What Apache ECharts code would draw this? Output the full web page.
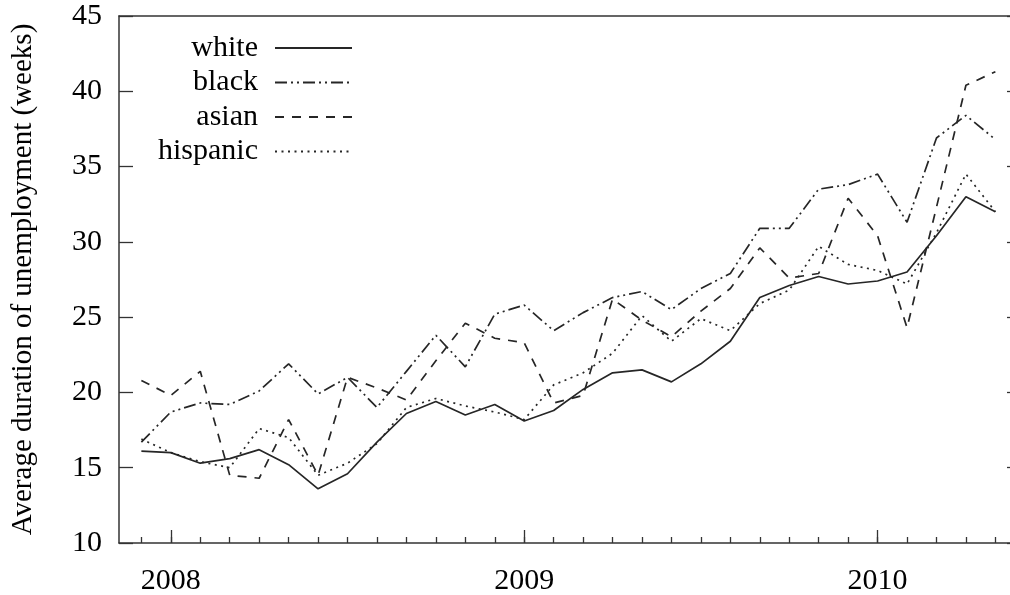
<!DOCTYPE html>
<html>
<head>
<meta charset="utf-8">
<script src="https://cdn.jsdelivr.net/npm/echarts@6/dist/echarts.min.js"></script>
<style>
  html, body { margin: 0; padding: 0; background: #fff; }
  #chart { width: 1010px; height: 595px; }
</style>
</head>
<body>
<div id="chart"></div>
<script>
// Monthly observations, Dec 2007 – May 2010
const months = [
  '2007-12',
  '2008-01','2008-02','2008-03','2008-04','2008-05','2008-06',
  '2008-07','2008-08','2008-09','2008-10','2008-11','2008-12',
  '2009-01','2009-02','2009-03','2009-04','2009-05','2009-06',
  '2009-07','2009-08','2009-09','2009-10','2009-11','2009-12',
  '2010-01','2010-02','2010-03','2010-04','2010-05'
];

// Average duration of unemployment (weeks)
const white = [16.1, 16.0, 15.3, 15.6, 16.2, 15.2, 13.6, 14.6, 16.7, 18.6,
               19.4, 18.5, 19.2, 18.1, 18.8, 20.2, 21.3, 21.5, 20.7, 21.9,
               23.4, 26.3, 27.1, 27.7, 27.2, 27.4, 28.0, 30.4, 33.0, 32.0];
const black = [16.7, 18.7, 19.3, 19.2, 20.1, 21.9, 19.9, 21.0, 19.0, 21.4,
               23.8, 21.7, 25.2, 25.8, 24.1, 25.3, 26.3, 26.7, 25.5, 26.9,
               27.9, 30.9, 30.9, 33.5, 33.8, 34.5, 31.3, 36.9, 38.4, 36.8];
const asian = [20.8, 19.8, 21.4, 14.5, 14.3, 18.2, 14.5, 21.0, 20.3, 19.5,
               22.1, 24.6, 23.6, 23.3, 19.3, 19.8, 26.2, 24.8, 23.7, 25.4,
               26.9, 29.6, 27.6, 27.9, 32.9, 30.4, 24.3, 32.3, 40.4, 41.3];
const hispanic = [16.9, 16.0, 15.4, 15.0, 17.6, 17.0, 14.5, 15.3, 16.6, 19.0,
                  19.6, 19.1, 18.7, 18.2, 20.5, 21.3, 22.6, 25.1, 23.4, 24.9,
                  24.1, 25.9, 26.8, 29.7, 28.5, 28.1, 27.2, 30.6, 34.5, 32.0];

// Year tick labels
const years = ['2008', '2009', '2010'];

// months counted from January 2008
function monthIndex(s) {
  const [y, m] = s.split('-').map(Number);
  return (y - 2008) * 12 + (m - 1);
}
const xs = months.map(monthIndex);
const yearTicks = years.map(y => monthIndex(y + '-01'));
const pairs = vals => xs.map((x, i) => [x, vals[i]]);

const FONT = '"Liberation Serif", "DejaVu Serif", serif';
const INK = '#262626';
const X_MIN = -1.76, X_MAX = 28.87;

const chart = echarts.init(document.getElementById('chart'), null, { renderer: 'canvas' });

const lineSeries = (name, vals, type) => ({
  name,
  type: 'line',
  xAxisIndex: 0,
  yAxisIndex: 0,
  data: pairs(vals),
  symbol: 'none',
  animation: false,
  lineStyle: { color: INK, width: 1.7, type },
  itemStyle: { color: INK }
});

chart.setOption({
  animation: false,
  backgroundColor: '#fff',
  grid: {
    left: 119, top: 16, width: 902, bottom: 52,
    outerBoundsMode: 'none',
    show: false
  },
  legend: {
    orient: 'vertical',
    align: 'right',
    right: 657,
    top: 33,
    padding: 0,
    itemWidth: 77,
    itemHeight: 14,
    itemGap: 4.5,
    selectedMode: false,
    itemStyle: { color: 'rgba(0,0,0,0)', borderWidth: 0 },
    textStyle: { fontFamily: FONT, fontSize: 30, color: '#000', padding: [0, 12, 0, 0] },
    data: ['white', 'black', 'asian', 'hispanic']
  },
  xAxis: [
    {
      type: 'value', position: 'bottom', min: X_MIN, max: X_MAX,
      axisLine: { show: true, onZero: false, lineStyle: { color: '#333', width: 1.5 } },
      axisTick: { show: true, inside: true, length: 13, customValues: yearTicks,
                  lineStyle: { color: '#333', width: 1.3 } },
      axisLabel: {
        show: true, customValues: yearTicks, margin: 23,
        fontFamily: FONT, fontSize: 30, color: '#000',
        formatter: v => years[yearTicks.indexOf(Math.round(v))] || ''
      },
      splitLine: { show: false }
    },
    {
      type: 'value', position: 'bottom', min: X_MIN, max: X_MAX,
      axisLine: { show: false, onZero: false },
      axisTick: { show: true, inside: true, length: 6, customValues: xs,
                  lineStyle: { color: '#333', width: 1.3 } },
      axisLabel: { show: false },
      splitLine: { show: false }
    },
    {
      // top frame line
      type: 'value', position: 'top', min: X_MIN, max: X_MAX,
      axisLine: { show: true, onZero: false, lineStyle: { color: '#333', width: 1.5 } },
      axisTick: { show: false },
      axisLabel: { show: false },
      splitLine: { show: false }
    }
  ],
  yAxis: [
    {
      type: 'value', position: 'left', min: 10, max: 45, interval: 5,
      name: 'Average duration of unemployment (weeks)',
      nameLocation: 'middle', nameGap: 81,
      nameTextStyle: { fontFamily: FONT, fontSize: 29, color: '#000' },
      axisLine: { show: true, onZero: false, lineStyle: { color: '#333', width: 1.5 } },
      axisTick: { show: true, inside: true, length: 14, lineStyle: { color: '#333', width: 1.3 } },
      axisLabel: { margin: 17, fontFamily: FONT, fontSize: 30, color: '#000' },
      splitLine: { show: false }
    },
    {
      // mirrored ticks on the right edge
      type: 'value', position: 'right', min: 10, max: 45, interval: 5,
      axisLine: { show: false, onZero: false },
      axisTick: { show: true, inside: true, length: 14, lineStyle: { color: '#333', width: 1.3 } },
      axisLabel: { show: false },
      splitLine: { show: false }
    }
  ],
  series: [
    lineSeries('white', white, 'solid'),
    lineSeries('black', black, [12, 4, 2, 4, 2, 4]),
    lineSeries('asian', asian, [9, 8]),
    lineSeries('hispanic', hispanic, [2, 4.5])
  ]
});
</script>
</body>
</html>
